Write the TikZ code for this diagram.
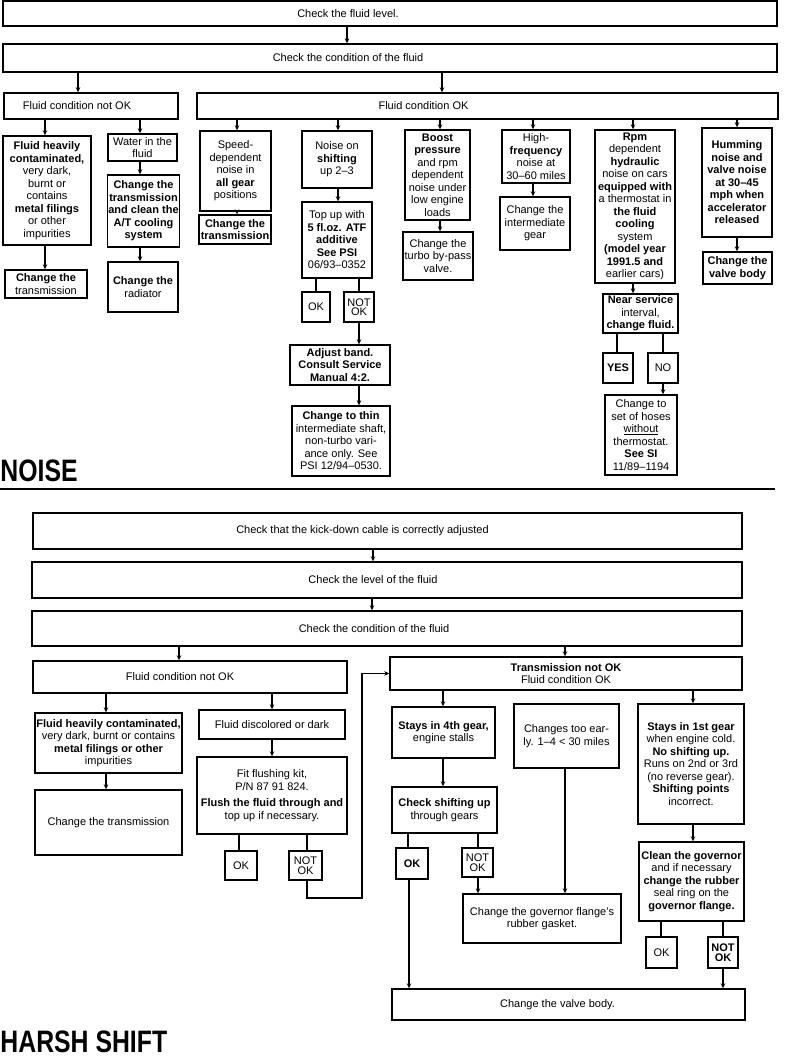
\documentclass[tikz,border=0pt]{standalone}
\usepackage{fontspec}
\setmainfont{Liberation Sans}
\usetikzlibrary{positioning,arrows.meta}

\begin{document}
\begin{tikzpicture}[x=1pt, y=-1pt, ->, >={Stealth[length=5pt,width=4.5pt]}, line width=1.2pt,
  font=\fontsize{11}{12.5}\selectfont,
  box/.style={draw, line width=1.4pt, align=center, inner sep=1pt},
  pair/.style={font=\fontsize{11}{9.5}\selectfont},
  title/.style={font=\fontsize{31}{31}\selectfont\bfseries, anchor=base west, inner sep=0pt, xscale=0.8}]
\path[use as bounding box, fill=white, -] (0,0) rectangle (785,1059);

\node[box, minimum width=774, minimum height=25, label={[xshift=-42pt]center:Check the fluid level.}] (nlvl) at (390,13.5) {};
\node[box, minimum width=774, minimum height=28, label={[xshift=-42pt]center:Check the condition of the fluid}] (ncond) at (390,58) {};
\node[box, minimum width=174, minimum height=26, label={[xshift=-14pt]center:Fluid condition not OK}] (nnot) at (91,106) {};
\node[box, minimum width=581, minimum height=26, label={[xshift=-64pt]center:Fluid condition OK}] (nok) at (487.5,106) {};

\node[box, minimum width=88, minimum height=109] (nheavy) at (47,190.5) {\textbf{Fluid heavily}\\\textbf{contaminated,}\\very dark,\\burnt or\\contains\\\textbf{metal filings}\\or other\\impurities};
\node[box, minimum width=82, minimum height=28] (nchtr) at (46,284) {\textbf{Change the}\\transmission};
\node[box, minimum width=69, minimum height=27] (nwater) at (142.5,147.5) {Water in the\\fluid};
\node[box, minimum width=71, minimum height=72] (nclean) at (143.5,211) {\textbf{Change the}\\\textbf{transmission}\\\textbf{and clean the}\\\textbf{A/T cooling}\\\textbf{system}};
\node[box, minimum width=70, minimum height=50] (nrad) at (143,287) {\textbf{Change the}\\radiator};
\node[box, minimum width=71, minimum height=80] (nspeed) at (235.5,171) {Speed-\\dependent\\noise in\\\textbf{all gear}\\positions};
\node[box, minimum width=72, minimum height=29] (nchtr2) at (235,229.5) {\textbf{Change the}\\\textbf{transmission}};
\node[box, minimum width=70, minimum height=57] (nshift) at (337,159.5) {Noise on\\\textbf{shifting}\\up 2--3};
\node[box, minimum width=70, minimum height=76] (ntopup) at (337,240) {Top up with\\\textbf{5 fl.oz. ATF}\\\textbf{additive}\\\textbf{See PSI}\\06/93--0352};
\node[box, minimum width=28, minimum height=30] (nok1) at (316,307) {OK};
\node[box, pair, minimum width=30, minimum height=30] (nnot1) at (359,307) {NOT\\OK};
\node[box, minimum width=100, minimum height=40] (nadjust) at (340,365) {\textbf{Adjust band.}\\\textbf{Consult Service}\\\textbf{Manual 4:2.}};
\node[box, minimum width=98, minimum height=70] (nthin) at (341,441) {\textbf{Change to thin}\\intermediate shaft,\\non-turbo vari-\\ance only. See\\PSI 12/94--0530.};
\node[box, minimum width=65, minimum height=90] (nboost) at (437.5,175) {\textbf{Boost}\\\textbf{pressure}\\and rpm\\dependent\\noise under\\low engine\\loads};
\node[box, minimum width=70, minimum height=48] (nturbo) at (438,256) {Change the\\turbo by-pass\\valve.};
\node[box, minimum width=68, minimum height=53] (nhigh) at (536,156.5) {High-\\\textbf{frequency}\\noise at\\30--60 miles};
\node[box, minimum width=70, minimum height=53] (ninter) at (535,223.5) {Change the\\intermediate\\gear};
\node[box, minimum width=80, minimum height=153] (nrpm) at (635,206.5) {\textbf{Rpm}\\dependent\\\textbf{hydraulic}\\noise on cars\\\textbf{equipped with}\\a thermostat in\\\textbf{the fluid}\\\textbf{cooling}\\system\\\textbf{(model year}\\\textbf{1991.5 and}\\earlier cars)};
\node[box, minimum width=75, minimum height=39] (nnear) at (640.5,313.5) {\textbf{Near service}\\interval,\\\textbf{change fluid.}};
\node[box, minimum width=30, minimum height=30] (nyes) at (618,368) {\textbf{YES}};
\node[box, minimum width=30, minimum height=30] (nno) at (663,368) {NO};
\node[box, minimum width=72, minimum height=80] (nhose) at (641,435) {Change to\\set of hoses\\\underline{without}\\thermostat.\\\textbf{See SI}\\11/89--1194};
\node[box, minimum width=70, minimum height=109] (nhum) at (737,182.5) {\textbf{Humming}\\\textbf{noise and}\\\textbf{valve noise}\\\textbf{at 30--45}\\\textbf{mph when}\\\textbf{accelerator}\\\textbf{released}};
\node[box, minimum width=69, minimum height=32] (nvalve) at (737.5,268) {\textbf{Change the}\\\textbf{valve body}};

\path (nlvl.south -| 347,0) edge (ncond.north -| 347,0);
\path (ncond.south -| 78,0) edge (nnot.north -| 78,0);
\path (ncond.south -| 442,0) edge (nok.north -| 442,0);
\path (nnot.south -| 45,0) edge (nheavy.north -| 45,0);
\path (nheavy.south -| 45,0) edge (nchtr.north -| 45,0);
\path (nnot.south -| 140,0) edge (nwater.north -| 140,0);
\path (nwater.south -| 140,0) edge (nclean.north -| 140,0);
\path (nclean.south -| 140,0) edge (nrad.north -| 140,0);
\path (nok.south -| 237,0) edge (nspeed.north -| 237,0);
\path (nspeed.south -| 237,0) edge (nchtr2.north -| 237,0);
\path (nok.south -| 338,0) edge (nshift.north -| 338,0);
\path (nshift.south -| 338,0) edge (ntopup.north -| 338,0);
\path (ntopup.south -| 316,0) edge[-] (nok1.north -| 316,0);
\path (ntopup.south -| 359,0) edge[-] (nnot1.north -| 359,0);
\path (nnot1.south -| 359,0) edge (nadjust.north -| 359,0);
\path (nadjust.south -| 359,0) edge (nthin.north -| 359,0);
\path (nok.south -| 440,0) edge (nboost.north -| 440,0);
\path (nboost.south -| 440,0) edge (nturbo.north -| 440,0);
\path (nok.south -| 533,0) edge (nhigh.north -| 533,0);
\path (nhigh.south -| 533,0) edge (ninter.north -| 533,0);
\path (nok.south -| 633,0) edge (nrpm.north -| 633,0);
\path (nrpm.south -| 633,0) edge (nnear.north -| 633,0);
\path (nnear.south -| 617,0) edge[-] (nyes.north -| 617,0);
\path (nnear.south -| 663,0) edge[-] (nno.north -| 663,0);
\path (nno.south -| 663,0) edge (nhose.north -| 663,0);
\path (nok.south -| 737,0) edge (nhum.north -| 737,0);
\path (nhum.south -| 737,0) edge (nvalve.north -| 737,0);

\node[title] (tnoise) at (0,481) {NOISE};
\draw[-, line width=2.5pt] (0,489) -- (775,489);

\node[box, minimum width=709, minimum height=36, label={[xshift=-25pt]center:Check that the kick-down cable is correctly adjusted}] (hkick) at (387.5,531) {};
\node[box, minimum width=710, minimum height=36, label={[xshift=-14pt]center:Check the level of the fluid}] (hlvl) at (387,580) {};
\node[box, minimum width=710, minimum height=35, label={[xshift=-13pt]center:Check the condition of the fluid}] (hcond) at (387,628.5) {};
\node[box, minimum width=314, minimum height=32, label={[xshift=-10pt]center:Fluid condition not OK}] (hnot) at (190,677) {};
\node[box, minimum width=352, minimum height=33] (htrans) at (566,673.5) {\textbf{Transmission not OK}\\Fluid condition OK};

\node[box, minimum width=147, minimum height=60] (hheavy) at (108.5,743) {\textbf{Fluid heavily contaminated,}\\very dark, burnt or contains\\\textbf{metal filings or other}\\impurities};
\node[box, minimum width=147, minimum height=65] (hchtr) at (108.5,822.5) {Change the transmission};
\node[box, minimum width=146, minimum height=29] (hdisc) at (272,724.5) {Fluid discolored or dark};
\node[box, minimum width=150, minimum height=77] (hflush) at (272,795.5) {Fit flushing kit,\\P/N 87 91 824.\\[4pt]\textbf{Flush the fluid through and}\\top up if necessary.};
\node[box, minimum width=32, minimum height=29] (hok1) at (241,865.5) {OK};
\node[box, pair, minimum width=33, minimum height=29] (hnot1) at (305.5,865.5) {NOT\\OK};
\coordinate (hbend) at (362,898);

\node[box, minimum width=103, minimum height=51] (h4th) at (443.5,732.5) {\textbf{Stays in 4th gear,}\\engine stalls};
\node[box, minimum width=105, minimum height=46] (hcheck) at (444.5,810) {\textbf{Check shifting up}\\through gears};
\node[box, minimum width=32, minimum height=31] (hok2) at (412,863.5) {\textbf{OK}};
\node[box, pair, minimum width=31, minimum height=29] (hnot2) at (477.5,862.5) {NOT\\OK};
\node[box, minimum width=105, minimum height=64] (hearly) at (566.5,736) {Changes too ear-\\ly. 1--4 < 30 miles};
\node[box, minimum width=158, minimum height=49] (hgasket) at (542,918.5) {Change the governor flange's\\rubber gasket.};
\node[box, minimum width=106, minimum height=120] (h1st) at (691,764) {\textbf{Stays in 1st gear}\\when engine cold.\\\textbf{No shifting up.}\\Runs on 2nd or 3rd\\(no reverse gear).\\\textbf{Shifting points}\\incorrect.};
\node[box, minimum width=105, minimum height=79] (hclean) at (691.5,881.5) {\textbf{Clean the governor}\\and if necessary\\\textbf{change the rubber}\\seal ring on the\\\textbf{governor flange.}};
\node[box, minimum width=31, minimum height=31] (hok3) at (661.5,952.5) {OK};
\node[box, pair, minimum width=30, minimum height=31] (hnot3) at (723,952.5) {\textbf{NOT}\\\textbf{OK}};
\node[box, minimum width=353, minimum height=31, label={[xshift=-11pt]center:Change the valve body.}] (hvalve) at (568.5,1004.5) {};

\path (hkick.south -| 373,0) edge (hlvl.north -| 373,0);
\path (hlvl.south -| 372,0) edge (hcond.north -| 372,0);
\path (hcond.south -| 179,0) edge (hnot.north -| 179,0);
\path (hcond.south -| 565,0) edge (htrans.north -| 565,0);
\path (hnot.south -| 106,0) edge (hheavy.north -| 106,0);
\path (hheavy.south -| 106,0) edge (hchtr.north -| 106,0);
\path (hnot.south -| 272,0) edge (hdisc.north -| 272,0);
\path (hdisc.south -| 272,0) edge (hflush.north -| 272,0);
\path (hflush.south -| 239,0) edge[-] (hok1.north -| 239,0);
\path (hflush.south -| 307,0) edge[-] (hnot1.north -| 307,0);
\draw (hnot1.south -| 307,0) |- (hbend) |- (htrans.west);
\path (htrans.south -| 443,0) edge (h4th.north -| 443,0);
\path (h4th.south -| 443,0) edge (hcheck.north -| 443,0);
\path (hcheck.south -| 408,0) edge[-] (hok2.north -| 408,0);
\path (hcheck.south -| 478,0) edge[-] (hnot2.north -| 478,0);
\path (hok2.south -| 409,0) edge (hvalve.north -| 409,0);
\path (hnot2.south -| 478,0) edge (hgasket.north -| 478,0);
\path (hearly.south -| 565,0) edge (hgasket.north -| 565,0);
\path (htrans.south -| 693,0) edge (h1st.north -| 693,0);
\path (h1st.south -| 693,0) edge (hclean.north -| 693,0);
\path (hclean.south -| 661,0) edge[-] (hok3.north -| 661,0);
\path (hclean.south -| 723,0) edge[-] (hnot3.north -| 723,0);
\path (hnot3.south -| 723,0) edge (hvalve.north -| 723,0);

\node[title] (tharsh) at (0,1052) {HARSH SHIFT};
\end{tikzpicture}
\end{document}
